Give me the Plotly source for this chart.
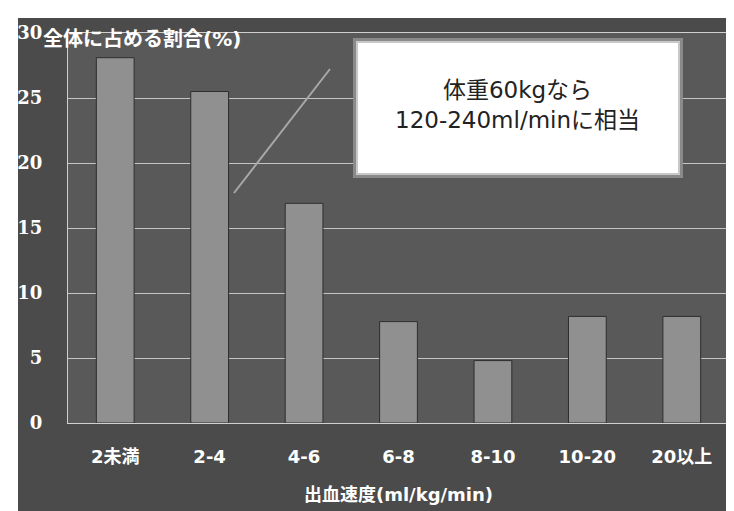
import plotly.graph_objects as go

categories = ["2未満", "2-4", "4-6", "6-8", "8-10", "10-20", "20以上"]
shares = [28.1, 25.5, 16.9, 7.8, 4.8, 8.2, 8.2]
y_ticks = [0, 5, 10, 15, 20, 25, 30]

y_title = "全体に占める割合(%)"
x_title = "出血速度(ml/kg/min)"
note_text = "体重60kgなら<br>120-240ml/minに相当"

W, H = 734, 511
L, R, T, B = 60, 13, 25, 96
pw, ph = W - L - R, H - T - B

def px(x):
    return (x - L) / pw

def py(y):
    return (H - B - y) / ph

bold = "DejaVu Sans, Noto Sans CJK JP"
fig = go.Figure()
fig.add_trace(go.Bar(
    x=categories, y=shares,
    marker=dict(color="#909090", line=dict(color="#2e2e2e", width=1)),
    width=0.4,
))

shapes = [
    # dark outer frame
    dict(type="rect", xref="paper", yref="paper", layer="below",
         x0=px(10), x1=px(W + 5), y0=py(H + 5), y1=py(10),
         fillcolor="#4b4b4b", line=dict(width=0)),
    # plot area
    dict(type="rect", xref="paper", yref="paper", layer="below",
         x0=0, x1=1, y0=0, y1=1,
         fillcolor="#595959", line=dict(width=0)),
    # fuzzy border of the note box
    dict(type="rect", xref="paper", yref="paper",
         x0=px(345), x1=px(675), y0=py(170), y1=py(30),
         fillcolor="#8a8a8a", line=dict(width=0)),
    dict(type="rect", xref="paper", yref="paper",
         x0=px(348), x1=px(672), y0=py(167), y1=py(33),
         fillcolor="#c8c8c8", line=dict(width=0)),
    dict(type="rect", xref="paper", yref="paper",
         x0=px(350), x1=px(670), y0=py(165), y1=py(35),
         fillcolor="#ffffff", line=dict(width=0)),
    # pointer line
    dict(type="line", xref="paper", yref="paper",
         x0=px(226), y0=py(185), x1=px(322), y1=py(61),
         line=dict(color="#a8a8a8", width=2)),
]

annotations = [
    dict(text=y_title, xref="paper", yref="paper", x=px(33), y=py(31),
         xanchor="left", yanchor="middle", showarrow=False,
         font=dict(family=bold, size=20, color="white", weight="bold")),
    dict(text=note_text, xref="paper", yref="paper", x=px(509), y=py(97),
         xanchor="center", yanchor="middle", showarrow=False,
         font=dict(family="DejaVu Sans, Noto Sans CJK JP", size=23, color="#222222"),
         align="center"),
]

fig.update_layout(
    width=W, height=H,
    margin=dict(l=L, r=R, t=T, b=B, autoexpand=False),
    paper_bgcolor="white",
    plot_bgcolor="rgba(0,0,0,0)",
    showlegend=False,
    shapes=shapes,
    annotations=annotations,
    bargap=0.6,
    xaxis=dict(
        automargin=False,
        showgrid=False, showline=True, linecolor="#d0d0d0", linewidth=1,
        mirror=True, ticks="", ticklabelstandoff=17,
        tickfont=dict(family=bold, size=18, color="white", weight="bold"),
        title=dict(text=x_title, standoff=22,
                   font=dict(family=bold, size=18, color="white", weight="bold")),
    ),
    yaxis=dict(
        automargin=False,
        range=[0, 30], tickvals=y_ticks, showgrid=True,
        gridcolor="#c4c4c4", gridwidth=1,
        showline=True, linecolor="#d0d0d0", linewidth=1, mirror=True,
        zeroline=False, ticks="", ticklabelstandoff=21,
        tickfont=dict(family="DejaVu Serif", size=18, color="white", weight="bold"),
    ),
)

fig.write_html("out.html")
